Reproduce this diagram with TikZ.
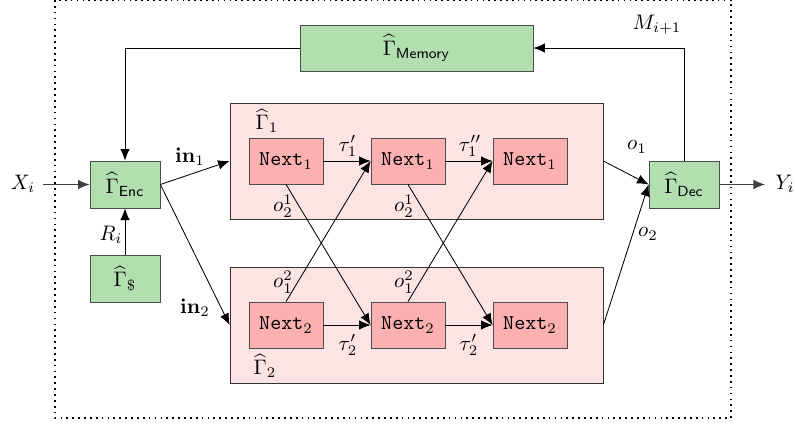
\documentclass[tikz,border=0pt]{standalone}
\usetikzlibrary{arrows.meta}
\definecolor{gfill}{RGB}{178,223,176}
\definecolor{cfill}{RGB}{253,228,228}
\definecolor{nfill}{RGB}{253,176,176}
\tikzset{
  gbox/.style={draw=black!70, fill=gfill, minimum width=33.3pt, minimum height=22.4pt, inner sep=0pt},
  nbox/.style={draw=black!70, fill=nfill, minimum width=35.2pt, minimum height=21.9pt, inner sep=0pt, font=\ttfamily},
  cbox/.style={draw=black!80, fill=cfill, minimum width=177.5pt, minimum height=55.2pt, inner sep=0pt},
  arr/.style={-{Latex[length=5.5pt,width=4.5pt]}},
  lbl/.style={inner sep=0pt}
}
\begin{document}
\begin{tikzpicture}[x=0.476pt,y=-0.476pt]
\useasboundingbox (0,0) rectangle (795,426);
\draw[dotted, line width=0.8pt] (55,0) rectangle (731,418);
% containers
\node[cbox] (c1) at (416.5,161) {};
\node[cbox] (c2) at (416.5,325) {};
% green boxes
\node[gbox, minimum width=110.9pt, minimum height=21.9pt] (mem) at (416.5,48) {$\widehat{\Gamma}_{\mathsf{Memory}}$};
\node[gbox] (enc) at (125,184.5) {$\widehat{\Gamma}_{\mathsf{Enc}}$};
\node[gbox] (rnd) at (125,278.5) {$\widehat{\Gamma}_{\$}$};
\node[gbox] (dec) at (684,184.5) {$\widehat{\Gamma}_{\mathsf{Dec}}$};
% next boxes
\node[nbox] (a1) at (286,161) {Next$_1$};
\node[nbox] (b1) at (408,161) {Next$_1$};
\node[nbox] (d1) at (530,161) {Next$_1$};
\node[nbox] (a2) at (286,325) {Next$_2$};
\node[nbox] (b2) at (408,325) {Next$_2$};
\node[nbox] (d2) at (530,325) {Next$_2$};
% labels
\node[lbl] (g1) at (267,121) {$\widehat{\Gamma}_1$};
\node[lbl] (g2) at (265,366) {$\widehat{\Gamma}_2$};
\node[lbl] (X) at (23,184) {$X_i$};
\node[lbl] (Y) at (785,184) {$Y_i$};
\node[lbl] (M) at (657,25) {$M_{i+1}$};
\node[lbl] (R) at (111,235) {$R_i$};
\node[lbl] (in1) at (190,157) {$\mathbf{in}_1$};
\node[lbl] (in2) at (195,308) {$\mathbf{in}_2$};
\node[lbl] (o1) at (637,147) {$o_1$};
\node[lbl] (o2) at (648,234) {$o_2$};
\node[lbl] (t1) at (348,146) {$\tau_1'$};
\node[lbl] (t1b) at (470,146) {$\tau_1''$};
\node[lbl] (t2) at (348,345) {$\tau_2'$};
\node[lbl] (t2b) at (469,345) {$\tau_2'$};
\node[lbl] (o21a) at (283,206) {$o_2^1$};
\node[lbl] (o21b) at (404,206) {$o_2^1$};
\node[lbl] (o12a) at (283,282) {$o_1^2$};
\node[lbl] (o12b) at (404,282) {$o_1^2$};
% coordinates for free ends
\coordinate (xs) at (43,184.5);
\coordinate (ye) at (765,184.5);
% connectors
\draw[arr, black!75] (xs) -- (enc.west);
\draw[arr, black!75] (dec.east) -- (ye);
\draw[arr] (rnd.north) -- (enc.south);
\draw[arr] (mem.west) -| (enc.north);
\draw[arr] (dec.north) |- (mem.east);
\draw[arr] (enc.east) -- (c1.west);
\draw[arr] (enc.east) -- (c2.west);
\draw[arr] (c1.east) -- (dec.west);
\draw[arr] (c2.east) -- (dec.west);
\draw[arr] (a1.east) -- (b1.west);
\draw[arr] (b1.east) -- (d1.west);
\draw[arr] (a2.east) -- (b2.west);
\draw[arr] (b2.east) -- (d2.west);
\draw[arr] (a1.south) -- (b2.west);
\draw[arr] (a2.north) -- (b1.west);
\draw[arr] (b1.south) -- (d2.west);
\draw[arr] (b2.north) -- (d1.west);
\end{tikzpicture}
\end{document}
